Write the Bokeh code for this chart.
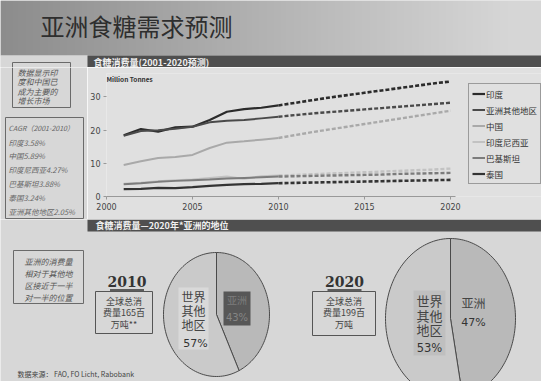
import numpy as np
from bokeh.plotting import figure
from bokeh.layouts import column, row
from bokeh.models import Range1d, Legend, LegendItem, Label, FixedTicker, LinearColorMapper
from bokeh.palettes import gray
from bokeh.embed import file_html
from bokeh.resources import INLINE
from bokeh.core.properties import value

# ---------------- data ----------------
title_text = "亚洲食糖需求预测"
chart1_title = "食糖消费量(2001-2020预测)"
chart2_title = "食糖消费量—2020年*亚洲的地位"
y_unit = "Million Tonnes"

hist_years = [2001, 2002, 2003, 2004, 2005, 2006, 2007, 2008, 2009, 2010]
fc_years = [2010, 2011, 2012, 2013, 2014, 2015, 2016, 2017, 2018, 2019, 2020]

series_names = ["印度", "亚洲其他地区", "中国", "印度尼西亚", "巴基斯坦", "泰国"]
india_hist = [18.4, 20.3, 19.5, 20.8, 21.0, 23.0, 25.5, 26.3, 26.7, 27.4]
india_fc = [27.4, 28.2, 29.0, 29.8, 30.5, 31.2, 31.9, 32.6, 33.3, 34.0, 34.6]
rasia_hist = [18.3, 19.7, 19.9, 20.4, 21.0, 22.3, 22.8, 23.0, 23.5, 24.0]
rasia_fc = [24.0, 24.5, 25.0, 25.4, 25.8, 26.2, 26.6, 27.0, 27.4, 27.8, 28.2]
china_hist = [9.5, 10.6, 11.6, 11.9, 12.5, 14.6, 16.2, 16.6, 17.1, 17.6]
china_fc = [17.6, 18.5, 19.4, 20.2, 21.0, 21.8, 22.6, 23.4, 24.2, 25.0, 25.8]
indo_hist = [3.8, 4.1, 4.6, 4.9, 5.1, 5.6, 6.0, 5.3, 6.1, 6.3]
indo_fc = [6.3, 6.5, 6.7, 6.9, 7.1, 7.3, 7.5, 7.7, 7.9, 8.1, 8.4]
pak_hist = [3.7, 4.0, 4.4, 4.7, 4.9, 5.1, 5.4, 5.6, 5.8, 6.0]
pak_fc = [6.0, 6.1, 6.2, 6.3, 6.4, 6.5, 6.6, 6.8, 6.9, 7.0, 7.1]
thai_hist = [2.2, 2.3, 2.6, 2.5, 2.8, 3.2, 3.5, 3.7, 3.8, 4.0]
thai_fc = [4.0, 4.1, 4.2, 4.3, 4.4, 4.5, 4.6, 4.7, 4.8, 4.9, 5.0]

x_ticks = [2000, 2005, 2010, 2015, 2020]
y_ticks = [0, 10, 20, 30]

note1_lines = ["数据显示印", "度和中国已", "成为主要的", "增长市场"]
cagr_title = "CAGR（2001-2010）"
cagr_names = ["印度", "中国", "印度尼西亚", "巴基斯坦", "泰国", "亚洲其他地区"]
cagr_values = [3.58, 5.89, 4.27, 3.88, 3.24, 2.05]
note2_lines = ["亚洲的消费量", "相对于其他地", "区接近于一半", "对一半的位置"]

pie_years = ["2010", "2020"]
pie_totals = [165, 199]
pie_total_suffix = ["**", ""]
asia_label = "亚洲"
rest_label_lines = ["世界", "其他", "地区"]
asia_share = [43, 47]
source_text = "数据来源： FAO, FO Licht, Rabobank"

# ---------------- styles ----------------
CJK = "Noto Sans CJK SC"
SLIDE = "#d7d7d7"
PANEL = "#e0e0e0"
HEADER = "#4f4f4f"
W, H = 541, 381
SPLIT = 67  # y where the top strip ends
CHART_BOTTOM = 219

series_hist = [india_hist, rasia_hist, china_hist, indo_hist, pak_hist, thai_hist]
series_fc = [india_fc, rasia_fc, china_fc, indo_fc, pak_fc, thai_fc]
series_colors = ["#2b2b2b", "#4a4a4a", "#a9a9a9", "#c2c2c2", "#7c7c7c", "#333333"]
series_widths = [2.2, 2.0, 2.0, 2.0, 2.0, 2.2]


def deco(x0, x1, y0, y1, bg):
    f = figure(width=x1 - x0, height=y1 - y0, title=None,
               x_range=Range1d(x0, x1), y_range=Range1d(y1, y0),
               x_axis_type=None, y_axis_type=None, frame_align=False,
               output_backend="svg", toolbar_location=None, min_border=0)
    f.grid.visible = False
    f.outline_line_color = None
    f.background_fill_color = bg
    f.border_fill_color = bg
    return f


def txt(f, x, y, t, size, color="#333", font=CJK, style="normal", align="left"):
    f.text(x=[x], y=[y], text=[t], text_font=value(font), text_font_size=size,
           text_color=color, text_font_style=style, text_align=align,
           text_baseline="middle")


# ---------------- top strip: title + first header bar ----------------
top = deco(0, W, 0, SPLIT, SLIDE)
grad = np.minimum(np.linspace(140, 218, 220), 214)[None, :]
top.image(image=[grad], x=0, y=0, dw=W, dh=55,
          color_mapper=LinearColorMapper(palette=gray(256), low=0, high=255))
top.quad(left=[0], right=[W], top=[55], bottom=[SPLIT], fill_color=SLIDE, line_color=None)
txt(top, 40, 25, title_text, "24px", "#2e2e2e")
top.quad(left=[87], right=[W], top=[55], bottom=[SPLIT], fill_color=HEADER, line_color=None)
txt(top, 93, 61.5, chart1_title, "9px", "#f0f0f0", style="bold")
top.line([12, 12, 70, 70], [SPLIT, 62, 62, SPLIT], line_color="#6a6a6a", line_width=1)

# ---------------- left notes ----------------
left = deco(0, 87, SPLIT, CHART_BOTTOM, SLIDE)
left.line([12, 12, 70, 70], [SPLIT, 107, 107, SPLIT], line_color="#6a6a6a", line_width=1)
for i, ln in enumerate(note1_lines):
    txt(left, 17, 72 + i * 9.3, ln, "8px", "#555", style="italic")
left.quad(left=[5], right=[83], top=[117], bottom=[218], fill_color=None,
          line_color="#6a6a6a", line_width=1)
txt(left, 8, 127, cagr_title, "7px", "#666", style="italic")
for i, (n, v) in enumerate(zip(cagr_names, cagr_values)):
    txt(left, 8, 141.5 + i * 13.9, f"{n}{v:.2f}%", "7.5px", "#666", style="italic")

# ---------------- line chart ----------------
frame_left = 18
frame_w = W - 87 - frame_left
px_per_year = 350 / 20.3
x_end = 2000 + frame_w / px_per_year
p = figure(width=W - 87, height=CHART_BOTTOM - SPLIT, x_range=Range1d(2000, x_end),
           y_range=Range1d(0, 37), frame_align=False,
           output_backend="svg", toolbar_location=None,
           min_border_left=frame_left, min_border_right=0, min_border_top=6,
           min_border_bottom=23)
p.background_fill_color = PANEL
p.border_fill_color = PANEL
p.outline_line_color = None
p.grid.visible = False
p.xaxis.ticker = FixedTicker(ticks=x_ticks)
p.yaxis.ticker = FixedTicker(ticks=y_ticks)
p.xaxis.bounds = (2000, 2020.3)
for ax in (p.xaxis, p.yaxis):
    ax.major_label_text_font = "DejaVu Sans"
    ax.major_label_text_font_size = "8px"
    ax.major_label_text_color = "#444"
    ax.minor_tick_line_color = None
    ax.major_tick_line_color = "#999"
    ax.major_tick_out = 3
    ax.major_tick_in = 0
    ax.major_label_standoff = 3
p.xaxis.axis_line_color = "#999"
p.yaxis.axis_line_color = None

items = []
for name, h, fc, c, w in zip(series_names, series_hist, series_fc, series_colors, series_widths):
    r = p.line(hist_years, h, line_color=c, line_width=w)
    p.line(fc_years, fc, line_color=c, line_width=w + 0.4, line_dash="4 2")
    items.append(LegendItem(label=name, renderers=[r]))

p.add_layout(Label(x=2000.0, y=35.3, text=y_unit, text_font=CJK, text_font_size="6.5px",
                   text_color="#333", text_font_style="bold", text_baseline="middle"))

legend = Legend(items=items, location=(362, 12), border_line_color="#555",
                border_line_width=1, background_fill_color=PANEL, background_fill_alpha=1,
                label_text_font=CJK, label_text_font_size="8.5px", label_text_color="#333",
                glyph_width=13, glyph_height=13, label_height=13, label_standoff=1,
                spacing=3, padding=3, margin=0)
p.add_layout(legend)

# ---------------- bottom part ----------------
bot = deco(0, W, CHART_BOTTOM, H, SLIDE)
bot.quad(left=[87], right=[W], top=[219], bottom=[231], fill_color=HEADER, line_color=None)
txt(bot, 95, 225, chart2_title, "9px", "#f0f0f0", style="bold")

bot.quad(left=[13], right=[83], top=[250], bottom=[303], fill_color=None,
         line_color="#6a6a6a", line_width=1)
for i, ln in enumerate(note2_lines):
    txt(bot, 48, 261 + i * 12, ln, "8px", "#555", style="italic", align="center")


def ellipse_slices(cx, cy, rx, ry, shares):
    fr = np.array(shares, dtype=float) / sum(shares)
    edges = np.concatenate([[0.0], np.cumsum(fr)]) * 2 * np.pi
    xs, ys = [], []
    for a0, a1 in zip(edges[:-1], edges[1:]):
        t = np.linspace(a0, a1, 90)
        xs.append([cx] + list(cx + rx * np.sin(t)))
        ys.append([cy] + list(cy - ry * np.cos(t)))
    return xs, ys


pie_geo = [
    dict(cx=216, cy=314, rx=53, ry=62, yearx=126.5, box=(95, 152, 291, 333)),
    dict(cx=450, cy=318, rx=65, ry=80, yearx=344, box=(312, 375, 291, 335)),
]

for k, g in enumerate(pie_geo):
    a = asia_share[k]
    rest = 100 - a
    xs, ys = ellipse_slices(g["cx"], g["cy"], g["rx"], g["ry"], [a, rest])
    bot.patches(xs=xs, ys=ys, fill_color=["#b9b9b9", "#cacaca"], line_color="#4a4a4a",
                line_width=1)
    txt(bot, g["yearx"], 281, pie_years[k], "14px", "#333", font="DejaVu Serif",
        style="bold", align="center")
    bot.line([g["yearx"] - 17, g["yearx"] + 17], [289.5, 289.5], line_color="#333",
             line_width=1.5)
    bl, br, bt, bb = g["box"]
    bot.quad(left=[bl], right=[br], top=[bt], bottom=[bb], fill_color=None,
             line_color="#555", line_width=1)
    bx = (bl + br) / 2
    lines = ["全球总消", f"费量{pie_totals[k]}百", "万吨" + pie_total_suffix[k]]
    for i, ln in enumerate(lines):
        txt(bot, bx, bt + 10 + i * 11.3, ln, "9px", "#444", align="center")

# pie 1 labels
bot.quad(left=[178], right=[208], top=[287], bottom=[349], fill_color="#d9d9d9", line_color=None)
for i, ln in enumerate(rest_label_lines):
    txt(bot, 193, 296 + i * 14, ln, "12px", "#444", align="center")
txt(bot, 195, 343, f"{100 - asia_share[0]}%", "11px", "#333", font="DejaVu Sans", align="center")
bot.quad(left=[223], right=[250], top=[291], bottom=[325], fill_color="#575757", line_color=None)
txt(bot, 236.5, 299, asia_label, "10px", "#7d7d7d", align="center")
txt(bot, 236.5, 317, f"{asia_share[0]}%", "10px", "#858585", font="DejaVu Sans", align="center")

# pie 2 labels
bot.quad(left=[413], right=[445], top=[290], bottom=[355], fill_color="#bfbfbf", line_color=None)
for i, ln in enumerate(rest_label_lines):
    txt(bot, 429, 300 + i * 14.5, ln, "13px", "#444", align="center")
txt(bot, 429, 347, f"{100 - asia_share[1]}%", "11.5px", "#333", font="DejaVu Sans", align="center")
txt(bot, 473, 302, asia_label, "12px", "#444", align="center")
txt(bot, 473, 322, f"{asia_share[1]}%", "11px", "#333", font="DejaVu Sans", align="center")

txt(bot, 17, 373, source_text, "7px", "#444")

layout = column(top, row(left, p), bot)
open("out.html", "w").write(file_html(layout, INLINE))
